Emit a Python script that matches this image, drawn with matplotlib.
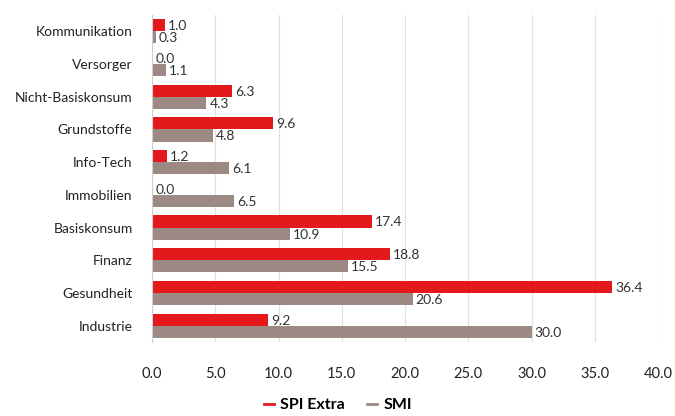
import numpy as np
import matplotlib.pyplot as plt
from matplotlib.lines import Line2D

plt.rcParams['font.family'] = ['Lato', 'DejaVu Sans']

categories = ["Kommunikation", "Versorger", "Nicht-Basiskonsum", "Grundstoffe",
              "Info-Tech", "Immobilien", "Basiskonsum", "Finanz", "Gesundheit", "Industrie"]
spi_extra = [1.0, 0.0, 6.3, 9.6, 1.2, 0.0, 17.4, 18.8, 36.4, 9.2]
smi = [0.3, 1.1, 4.3, 4.8, 6.1, 6.5, 10.9, 15.5, 20.6, 30.0]
series_names = ["SPI Extra", "SMI"]

red = "#E3191B"
grey = "#9C8983"

fig = plt.figure(figsize=(6.75, 4.16), dpi=100)
ax = fig.add_axes([152 / 675, 1 - 342 / 416, (658 - 152) / 675, (342 - 15) / 416])

y = np.arange(len(categories))
h = 0.37
b1 = ax.barh(y - h / 2, spi_extra, height=h, color=red, zorder=2)
b2 = ax.barh(y + h / 2, smi, height=h, color=grey, zorder=2)

for bars, vals in ((b1, spi_extra), (b2, smi)):
    for bar, v in zip(bars, vals):
        ax.text(v + 0.25, bar.get_y() + bar.get_height() / 2 + 0.03, f"{v:.1f}",
                va="center", ha="left", fontsize=10, color="#333333")

ax.set_yticks(y)
ax.set_yticklabels(categories, fontsize=10, color="#222222")
ax.set_ylim(len(categories) - 0.5, -0.5)
ax.set_xlim(0, 40)
ax.set_xticks(np.arange(0, 41, 5))
ax.set_xticklabels([f"{t:.1f}" for t in np.arange(0, 41, 5)], fontsize=10.5, color="#222222")
ax.tick_params(axis="both", length=0)
ax.tick_params(axis="x", pad=18)
ax.tick_params(axis="y", pad=14)
ax.grid(axis="x", color="#e0e0e0", linewidth=0.9, zorder=0)
for s in ["top", "right", "bottom"]:
    ax.spines[s].set_visible(False)
ax.spines["left"].set_color("#d0d0d0")

handles = [Line2D([], [], color=red, linewidth=2), Line2D([], [], color=grey, linewidth=2)]
fig.legend(handles=handles, labels=series_names, loc="center",
           bbox_to_anchor=(338 / 675, 1 - 405 / 416),
           ncol=2, frameon=False, handlelength=0.6,
           handletextpad=0.4, columnspacing=1.4,
           prop={"weight": "bold", "size": 11.5})

fig.savefig("out.png", dpi=100)
